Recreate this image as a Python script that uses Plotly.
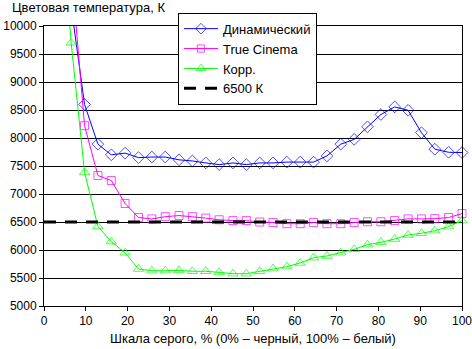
import plotly.graph_objects as go

# Grey level, % (32 steps)
grey = [0, 3.2, 6.5, 9.7, 12.9, 16.1, 19.4, 22.6, 25.8, 29.0, 32.3, 35.5, 38.7, 41.9,
        45.2, 48.4, 51.6, 54.8, 58.1, 61.3, 64.5, 67.7, 71.0, 74.2, 77.4, 80.6,
        83.9, 87.1, 90.3, 93.5, 96.8, 100]

dynamic = [None, None, 10350, 8600, 7890, 7700, 7730, 7650, 7660, 7660, 7610, 7590,
           7555, 7525, 7555, 7525, 7555, 7555, 7570, 7570, 7570, 7680, 7890, 7975,
           8200, 8420, 8555, 8495, 8095, 7800, 7745, 7740]

true_cinema = [None, None, 11050, 8220, 7330, 7240, 6830, 6580, 6555, 6595, 6615, 6595,
               6570, 6540, 6525, 6525, 6500, 6490, 6470, 6470, 6490, 6470, 6470, 6490,
               6505, 6505, 6525, 6555, 6555, 6560, 6580, 6650]

corr = [None, 12800, 9700, 7385, 6420, 6150, 5950, 5660, 5630, 5630, 5635, 5620,
        5620, 5600, 5577, 5577, 5620, 5667, 5702, 5768, 5863, 5893, 5952, 6012,
        6095, 6137, 6196, 6268, 6298, 6345, 6417, 6524]

ref_x = [0, 100]
ref_y = [6500, 6500]

series_names = ["Динамический", "True Cinema", "Корр.", "6500 К"]
title_text = "Цветовая температура, К"
x_title = "Шкала серого, % (0% – черный, 100% – белый)"
x_ticks = [0, 10, 20, 30, 40, 50, 60, 70, 80, 90, 100]
y_ticks = [5000, 5500, 6000, 6500, 7000, 7500, 8000, 8500, 9000, 9500, 10000]

FONT = "Arial, Liberation Sans, sans-serif"
YMIN, YMAX = 5000, 10000


def sizes(vals, s):
    return [s if (v is not None and YMIN <= v <= YMAX) else 0 for v in vals]


fig = go.Figure()
fig.add_trace(go.Scatter(
    x=grey, y=dynamic, name=series_names[0], mode="lines+markers",
    line=dict(color="#0000FF", width=1),
    marker=dict(symbol="diamond-open", size=sizes(dynamic, 9), color="#0000FF",
                line=dict(width=1, color="#0000FF")),
    cliponaxis=False))
fig.add_trace(go.Scatter(
    x=grey, y=true_cinema, name=series_names[1], mode="lines+markers",
    line=dict(color="#FF00FF", width=1),
    marker=dict(symbol="square-open", size=sizes(true_cinema, 8), color="#FF00FF",
                line=dict(width=1, color="#FF00FF")),
    cliponaxis=False))
fig.add_trace(go.Scatter(
    x=grey, y=corr, name=series_names[2], mode="lines+markers",
    line=dict(color="#00FF00", width=1),
    marker=dict(symbol="triangle-up-open", size=sizes(corr, 9), color="#00FF00",
                line=dict(width=1, color="#00FF00")),
    cliponaxis=False))
fig.add_trace(go.Scatter(
    x=ref_x, y=ref_y, name=series_names[3], mode="lines",
    line=dict(color="#000000", width=3, dash="12px,9px")))

fig.update_layout(
    width=472, height=349,
    margin=dict(l=44, r=10, t=26, b=43),
    paper_bgcolor="white", plot_bgcolor="white",
    font=dict(family=FONT, size=12, color="black"),
    showlegend=True,
    legend=dict(x=(178 - 44) / 418, y=1 + (26 - 12.7) / 280, xanchor="left", yanchor="top",
                bgcolor="white", bordercolor="black", borderwidth=1, itemwidth=34,
                font=dict(family=FONT, size=13, color="black")),
    xaxis=dict(range=[0, 100], tickmode="array", tickvals=x_ticks,
               ticktext=[str(v) for v in x_ticks], ticklabeloverflow="allow",
               automargin=False,
               showgrid=False, zeroline=False,
               showline=True, linecolor="black", linewidth=1, mirror=True,
               ticks="outside", ticklen=4, tickcolor="black",
               tickfont=dict(family=FONT, size=12, color="black")),
    yaxis=dict(range=[YMIN, YMAX], tickmode="array", tickvals=y_ticks,
               ticktext=[str(v) for v in y_ticks], ticklabeloverflow="allow",
               automargin=False,
               showgrid=True, gridcolor="black",
               gridwidth=1, zeroline=False, showline=True, linecolor="black", linewidth=1,
               mirror=True, ticks="outside", ticklen=4, tickcolor="black",
               tickfont=dict(family=FONT, size=12, color="black")),
    annotations=[
        dict(text=title_text, xref="paper", yref="paper", x=(10 - 44) / 418,
             y=1 + (26 - 7) / 280, xanchor="left", yanchor="middle", showarrow=False,
             font=dict(family=FONT, size=13, color="black")),
        dict(text=x_title, xref="paper", yref="paper", x=0.5,
             y=-(338 - 306) / 280, xanchor="center", yanchor="middle", showarrow=False,
             font=dict(family=FONT, size=13, color="black")),
    ],
)

fig.write_html("out.html")
